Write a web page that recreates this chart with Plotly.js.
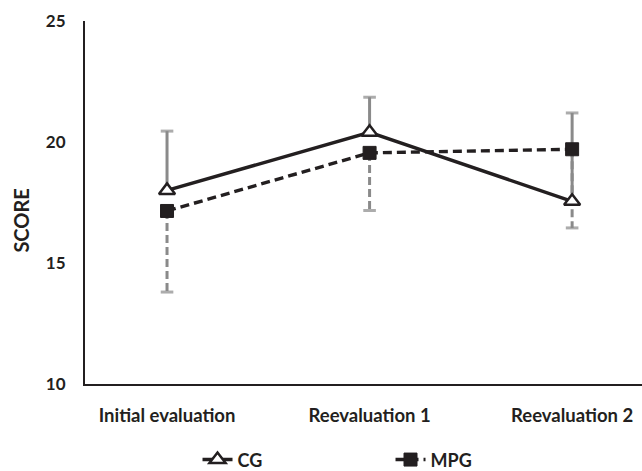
<!DOCTYPE html>
<html><head><meta charset="utf-8">
<script src="https://cdn.plot.ly/plotly-3.0.1.min.js"></script>
<style>html,body{margin:0;padding:0;background:#fff}#chart{width:642px;height:471px}</style>
</head><body><div id="chart"></div>
<script>
// ---- data ----
const categories = ["Initial evaluation", "Reevaluation 1", "Reevaluation 2"];
const cgValues = [18.0, 20.4, 17.55];
const cgErrPlus = [2.45, 1.45, 3.65];
const mpgValues = [17.15, 19.55, 19.7];
const mpgErrMinus = [3.35, 2.38, 3.25];
const yTicks = [10, 15, 20, 25];
const seriesNames = ["CG", "MPG"];
const yTitle = "SCORE";

// ---- style constants ----
const font = "Lato, 'Open Sans', sans-serif";
const ink = "#231f20";
const errGray = "#8a8a8a";

function segs(vals, errs, sign) {
  const x = [], y = [], s = [];
  categories.forEach((c, i) => {
    x.push(c, c, null);
    y.push(vals[i], vals[i] + sign * errs[i], null);
    s.push(0, 9, 0);
  });
  return {x, y, s};
}
const cgE = segs(cgValues, cgErrPlus, 1);
const mpgE = segs(mpgValues, mpgErrMinus, -1);

const traces = [
  {x: cgE.x, y: cgE.y, mode: "lines+markers", showlegend: false, hoverinfo: "skip",
   line: {color: errGray, width: 3}, connectgaps: false,
   marker: {symbol: "line-ew", size: cgE.s, color: errGray, line: {color: errGray, width: 3}}},
  {x: mpgE.x, y: mpgE.y, mode: "lines+markers", showlegend: false, hoverinfo: "skip",
   line: {color: errGray, width: 3, dash: "8px,4px"}, connectgaps: false,
   marker: {symbol: "line-ew", size: mpgE.s, color: errGray, line: {color: errGray, width: 3}}},
  {x: categories, y: cgValues, name: seriesNames[0], mode: "lines+markers",
   line: {color: ink, width: 3.4},
   marker: {symbol: "triangle-up", size: 14, color: "#ffffff", line: {color: ink, width: 2.5}}},
  {x: categories, y: mpgValues, name: seriesNames[1], mode: "lines+markers",
   line: {color: ink, width: 3.4, dash: "9px,5px"},
   marker: {symbol: "square", size: 13, color: ink, line: {color: ink, width: 1}}}
];

const layout = {
  width: 642, height: 471,
  margin: {l: 85, r: 0, t: 21, b: 87, autoexpand: false},
  paper_bgcolor: "#fff", plot_bgcolor: "#fff",
  showlegend: true,
  legend: {orientation: "h", x: 0.202, xanchor: "left", y: -0.209, yanchor: "middle",
           font: {family: font, size: 18, color: ink, weight: "bold"},
           entrywidth: 148, traceorder: "normal"},
  xaxis: {type: "category", categoryorder: "array", categoryarray: categories,
          range: [-0.405, 2.345], showline: true, linecolor: ink, linewidth: 2,
          showgrid: false, zeroline: false, ticks: "", ticklabelstandoff: 14,
          tickfont: {family: font, size: 18.5, color: ink, weight: "bold"}},
  yaxis: {range: [10, 25], tickvals: yTicks, showline: true, linecolor: ink, linewidth: 2,
          showgrid: false, zeroline: false, ticks: "", ticklabelstandoff: 14,
          tickfont: {family: font, size: 17, color: ink, weight: "bold"}},
  annotations: [{
    x: -0.115, xref: "paper", y: 16.75, yref: "y", text: yTitle, textangle: -90,
    showarrow: false, xanchor: "center", yanchor: "middle",
    font: {family: font, size: 20, color: ink, weight: "bold"}
  }]
};

Plotly.newPlot("chart", traces, layout, {displayModeBar: false, staticPlot: true});
</script>
</body></html>
